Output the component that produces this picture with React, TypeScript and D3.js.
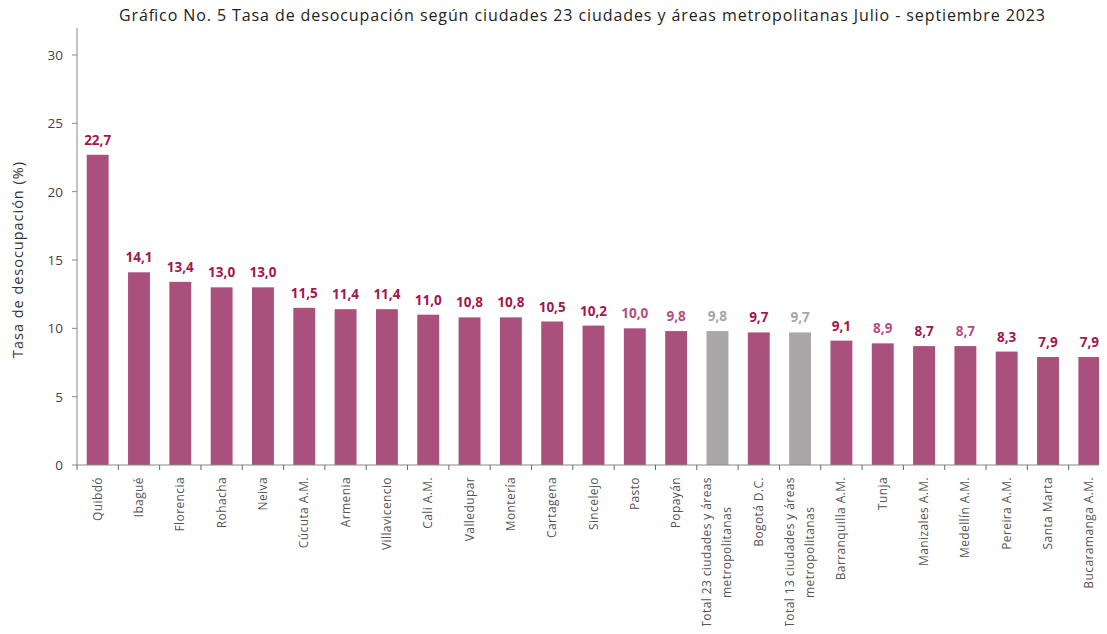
import React, { useEffect, useRef } from "react";
import * as d3 from "d3";

const categories = [
  "Quibdó", "Ibagué", "Florencia", "Rohacha", "Neiva", "Cúcuta A.M.", "Armenia",
  "Villavicencio", "Cali A.M.", "Valledupar", "Montería", "Cartagena", "Sincelejo",
  "Pasto", "Popayán", "Total 23 ciudades y áreas|metropolitanas", "Bogotá D.C.",
  "Total 13 ciudades y áreas|metropolitanas", "Barranquilla A.M.", "Tunja",
  "Manizales A.M.", "Medellín A.M.", "Pereira A.M.", "Santa Marta", "Bucaramanga A.M.",
];
const values = [
  22.7, 14.1, 13.4, 13.0, 13.0, 11.5, 11.4, 11.4, 11.0, 10.8, 10.8, 10.5, 10.2,
  10.0, 9.8, 9.8, 9.7, 9.7, 9.1, 8.9, 8.7, 8.7, 8.3, 7.9, 7.9,
];
// "t" = total (grey bar), "l" = lighter label, "d" = dark label
const kinds = [
  "d", "d", "d", "d", "d", "d", "d", "d", "d", "d", "d", "d", "d",
  "l", "l", "t", "d", "t", "d", "l", "d", "l", "d", "d", "d",
];
const yTicks = [0, 5, 10, 15, 20, 25, 30];

const W = 1107, H = 634;

export default function App() {
  const ref = useRef<SVGSVGElement>(null);

  useEffect(() => {
    const svg = d3.select(ref.current);
    svg.selectAll("*").remove();

    const x = d3.scaleBand().domain(categories).range([77, 1110]).padding(0);
    const y = d3.scaleLinear().domain([0, 30]).range([465, 55]);
    const barW = x.bandwidth() * 0.53;
    const fmt = (v: number) => v.toFixed(1).replace(".", ",");

    // title
    svg.append("text")
      .attr("x", 582).attr("y", 21)
      .attr("text-anchor", "middle")
      .attr("font-family", "'Open Sans', sans-serif")
      .attr("font-size", 16)
      .attr("fill", "#222")
      .attr("textLength", 926)
      .attr("lengthAdjust", "spacing")
      .text("Gráfico No. 5 Tasa de desocupación según ciudades 23 ciudades y áreas metropolitanas Julio - septiembre 2023");

    // bars
    svg.selectAll("rect.bar")
      .data(values)
      .enter().append("rect")
      .attr("class", "bar")
      .attr("x", (d, i) => x(categories[i])! + (x.bandwidth() - barW) / 2)
      .attr("y", (d) => y(d))
      .attr("width", barW)
      .attr("height", (d) => y(0) - y(d))
      .attr("fill", (d, i) => (kinds[i] === "t" ? "#a8a6a7" : "#a9507d"));

    // value labels
    svg.selectAll("text.val")
      .data(values)
      .enter().append("text")
      .attr("class", "val")
      .attr("x", (d, i) => x(categories[i])! + x.bandwidth() / 2)
      .attr("y", (d) => y(d) - 10)
      .attr("text-anchor", "middle")
      .attr("font-family", "'Open Sans', sans-serif")
      .attr("font-weight", "bold")
      .attr("font-size", 13.5)
      .attr("fill", (d, i) => kinds[i] === "t" ? "#a5a5a5" : kinds[i] === "l" ? "#b54d80" : "#a3164f")
      .text((d) => fmt(d));

    // y axis
    const yAxis = svg.append("g").attr("stroke", "#888");
    yAxis.append("line").attr("x1", 77).attr("x2", 77).attr("y1", 28).attr("y2", 465).attr("stroke-width", 1);
    yAxis.selectAll("line.tk").data(yTicks).enter().append("line")
      .attr("x1", 72).attr("x2", 77).attr("y1", (d) => y(d)).attr("y2", (d) => y(d));
    svg.selectAll("text.yt").data(yTicks).enter().append("text")
      .attr("x", 63).attr("y", (d) => y(d) + 5)
      .attr("text-anchor", "end")
      .attr("font-family", "'Open Sans', sans-serif")
      .attr("font-size", 13.5)
      .attr("fill", "#444")
      .text((d) => d);

    svg.append("text")
      .attr("transform", "translate(23,260) rotate(-90)")
      .attr("text-anchor", "middle")
      .attr("font-family", "'Open Sans', sans-serif")
      .attr("font-size", 14.5)
      .attr("fill", "#333")
      .attr("textLength", 196)
      .attr("lengthAdjust", "spacing")
      .text("Tasa de desocupación (%)");

    // x axis
    svg.append("line").attr("x1", 77).attr("x2", W).attr("y1", 465).attr("y2", 465)
      .attr("stroke", "#888");
    svg.selectAll("line.xt").data(categories).enter().append("line")
      .attr("x1", (d) => x(d)!).attr("x2", (d) => x(d)!)
      .attr("y1", 465).attr("y2", 470).attr("stroke", "#666");

    const labels = svg.selectAll("g.cat").data(categories).enter().append("g")
      .attr("transform", (d) => `translate(${x(d)! + x.bandwidth() / 2},477) rotate(-90)`);
    labels.each(function (d) {
      const lines = d.split("|");
      const g = d3.select(this);
      const texts = lines.map((ln, j) =>
        g.append("text")
          .attr("x", 0)
          .attr("y", (j - (lines.length - 1) / 2) * 20 + 4)
          .attr("text-anchor", "end")
          .attr("font-family", "'Open Sans', sans-serif")
          .attr("font-size", 12)
          .attr("letter-spacing", 0.4)
          .attr("fill", "#555")
          .text(ln)
      );
      if (lines.length > 1) {
        // center all lines on the longest one
        const lens = texts.map((t) => (t.node() as SVGTextElement).getComputedTextLength());
        const mid = -Math.max(...lens) / 2;
        texts.forEach((t) => t.attr("text-anchor", "middle").attr("x", mid));
      }
    });
  }, []);

  return <svg ref={ref} width={W} height={H} style={{ display: "block", margin: "-8px" }} />;
}
